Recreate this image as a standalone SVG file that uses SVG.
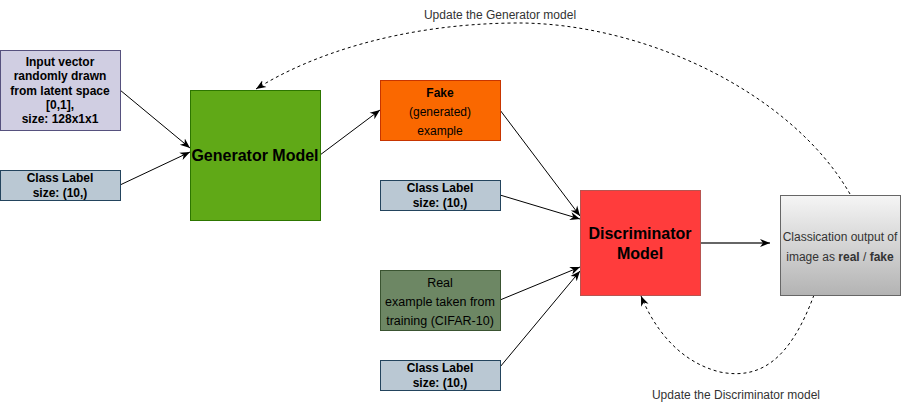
<svg xmlns="http://www.w3.org/2000/svg" width="901" height="411" viewBox="0 0 901 411">
<style>
text{font-family:"Liberation Sans",Arial,sans-serif;font-size:12px;fill:#000;text-anchor:middle}
.b{font-weight:bold}
.lbl{fill:#333}
.big{font-size:16px;font-weight:bold}
.edge{fill:none;stroke:#000;stroke-width:1}
.dash{fill:none;stroke:#000;stroke-width:1;stroke-dasharray:3 3}
</style>
<defs>
<marker id="arr" viewBox="0 0 10 10" refX="10" refY="5" markerWidth="10" markerHeight="10" markerUnits="userSpaceOnUse" orient="auto">
<path d="M0,1 L10,5 L0,9 L3,5 z" fill="#000"/>
</marker>
<linearGradient id="gray" x1="0" y1="0" x2="0" y2="1">
<stop offset="0" stop-color="#f5f5f5"/>
<stop offset="1" stop-color="#b3b3b3"/>
</linearGradient>
</defs>

<g id="connectors">
<path class="edge" d="M120,90 L190,148" marker-end="url(#arr)"/>
<path class="edge" d="M120,185 L190,152" marker-end="url(#arr)"/>
<path class="edge" d="M320,155 L380,110" marker-end="url(#arr)"/>
<path class="edge" d="M500,110 L580,216" marker-end="url(#arr)"/>
<path class="edge" d="M500,195 L580,219" marker-end="url(#arr)"/>
<path class="edge" d="M500,300 L580,267" marker-end="url(#arr)"/>
<path class="edge" d="M500,367 L580,271" marker-end="url(#arr)"/>
<path d="M700,243 L770,243" fill="none" stroke="#666" stroke-width="2" marker-end="url(#arr)"/>
<path class="dash" d="M850,194 C790,90 640,22 515,23 C400,24 310,55 256,89" marker-end="url(#arr)"/>
<path class="dash" d="M814,295 C790,360 760,380 720,372 C680,362 655,330 641,296" marker-end="url(#arr)"/>
<text class="lbl" x="500" y="19">Update the Generator model</text>
<text class="lbl" x="736" y="399">Update the Discriminator model</text>
</g>

<g id="input-vector">
<rect x="0.5" y="50.5" width="120" height="80" fill="#d0cee2" stroke="#56517e"/>
<text class="b" x="60" y="66">Input vector</text>
<text class="b" x="60" y="80">randomly drawn</text>
<text class="b" x="60" y="94.5">from latent space</text>
<text class="b" x="60" y="109">[0,1],</text>
<text class="b" x="60" y="123">size: 128x1x1</text>
</g>

<g id="class-label-1">
<rect x="0.5" y="170.5" width="120" height="30" fill="#bac8d3" stroke="#23445d"/>
<text class="b" x="60" y="182">Class Label</text>
<text class="b" x="60" y="197">size: (10,)</text>
</g>

<g id="generator">
<rect x="190.5" y="90.5" width="130" height="130" fill="#60a917" stroke="#2d7600"/>
<text class="big" x="255" y="161">Generator Model</text>
</g>

<g id="fake">
<rect x="380.5" y="80.5" width="120" height="60" fill="#fa6800" stroke="#c73500"/>
<text class="b" x="440" y="97">Fake</text>
<text x="440" y="116">(generated)</text>
<text x="440" y="135">example</text>
</g>

<g id="class-label-2">
<rect x="380.5" y="180.5" width="120" height="30" fill="#bac8d3" stroke="#23445d"/>
<text class="b" x="440" y="192">Class Label</text>
<text class="b" x="440" y="207">size: (10,)</text>
</g>

<g id="real">
<rect x="380.5" y="270.5" width="120" height="60" fill="#6d8764" stroke="#3a5431"/>
<text x="440" y="287" style="font-size:12.5px">Real</text>
<text x="440" y="306" style="font-size:12.5px">example taken from</text>
<text x="440" y="325" style="font-size:12.5px">training (CIFAR-10)</text>
</g>

<g id="class-label-3">
<rect x="380.5" y="360.5" width="120" height="30" fill="#bac8d3" stroke="#23445d"/>
<text class="b" x="440" y="372">Class Label</text>
<text class="b" x="440" y="387">size: (10,)</text>
</g>

<g id="discriminator">
<rect x="580.5" y="190.5" width="120" height="105" fill="#ff3c3c" stroke="#b85450"/>
<text class="big" x="640" y="239">Discriminator</text>
<text class="big" x="640" y="259">Model</text>
</g>

<g id="output">
<rect x="780.5" y="195.5" width="120" height="100" fill="url(#gray)" stroke="#666"/>
<text class="lbl" x="840" y="241">Classication output of</text>
<text class="lbl" x="840" y="261">image as <tspan class="b">real</tspan> / <tspan class="b">fake</tspan></text>
</g>
</svg>
